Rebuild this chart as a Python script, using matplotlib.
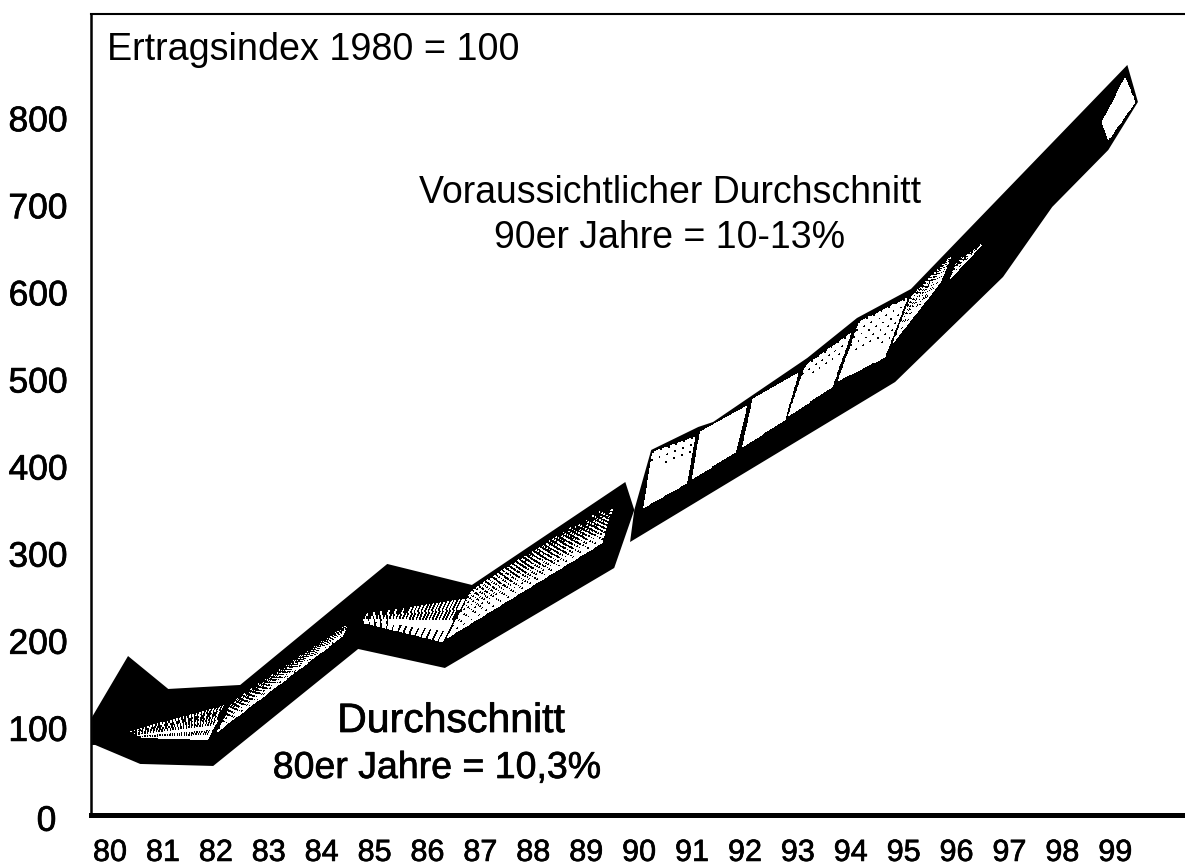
import matplotlib
matplotlib.use('Agg')
import matplotlib.pyplot as plt
import matplotlib.patheffects as pe
from matplotlib.transforms import ScaledTranslation
import numpy as np

plt.rcParams['font.family'] = ['Liberation Sans', 'DejaVu Sans']

year_ticks = list(range(80, 100))
index_ticks = [0, 100, 200, 300, 400, 500, 600, 700, 800]

# black ribbon outline of the 80s
ribbon80_x = [79.66, 80.34, 81.10, 82.46, 85.24, 86.84, 89.74, 89.91, 89.53, 86.33, 84.69, 81.95, 80.57, 79.72, 79.66]
ribbon80_y = [112.5, 182.5, 144.7, 149.3, 288.2, 264.1, 382.3, 350.2, 283.6, 168.8, 190.6, 56.3, 58.6, 80.4, 80.4]

# black ribbon outline of the 90s
ribbon90_x = [89.83, 89.91, 90.23, 91.12, 91.40, 92.15, 93.18, 94.12, 95.14, 99.23, 99.43, 98.87, 97.81, 96.88, 94.84]
ribbon90_y = [313.4, 350.2, 419.1, 445.5, 451.2, 482.2, 524.7, 570.6, 603.9, 861.1, 818.6, 763.5, 698.1, 617.7, 497.1]

# lighter panels on the ribbon: upper edge (x0, y0, x1, y1), lower edge, darkness at left and right end
panel_top = [
    (80.28, 99.9, 82.36, 143.5), (82.42, 141.2, 84.54, 223.9), (84.78, 233.1, 86.81, 260.6),
    (86.84, 258.3, 89.57, 365.1), (90.25, 416.8, 91.06, 434.0), (91.15, 439.7, 92.04, 469.6),
    (92.15, 477.6, 93.01, 507.5), (93.14, 515.5, 94.01, 553.4), (94.16, 566.0, 95.07, 593.6),
    (95.12, 593.6, 95.92, 642.9), (96.03, 639.5, 96.58, 660.2), (99.19, 846.2, 99.38, 818.6),
]
panel_bottom = [
    (80.62, 88.4, 81.83, 86.1), (82.02, 95.3, 84.40, 205.5), (84.78, 220.4, 86.28, 198.6),
    (86.37, 203.2, 89.30, 312.3), (90.08, 352.5, 90.91, 381.2), (91.00, 385.8, 91.83, 416.8),
    (91.95, 422.5, 92.76, 453.5), (92.82, 458.1, 93.65, 491.4), (93.76, 498.3, 94.65, 525.8),
    (94.80, 541.9, 95.69, 610.8), (95.88, 615.4, 96.48, 654.4), (98.75, 795.6, 98.87, 775.0),
]
panel_dark_left = [1.0, 1.0, 1.0, 0.25, 0.035, 0.0, 0.0, 0.035, 0.05, 0.3, 0.8, 0.0]
panel_dark_right = [0.9, 1.0, 0.85, 1.0, 0.045, 0.0, 0.0, 0.05, 0.09, 0.55, 1.0, 0.0]

# ordered dither gives the printed halftone look of the shading
BAYER = np.array([[0, 8, 2, 10], [12, 4, 14, 6], [3, 11, 1, 9], [15, 7, 13, 5]]) / 16 + 1 / 32


def shade_panel(ax, top, bottom, dark_left, dark_right, cell=2.0):
    """Fill a panel with a black and white dither, dark at its upper edge"""
    sx = 1094 / 20.68  # pixels per year
    sy = 801 / 919.6  # pixels per index point
    length = np.hypot((top[2] - top[0]) * sx, (top[3] - top[1]) * sy)
    depth = np.hypot((top[0] - bottom[0]) * sx, (top[1] - bottom[1]) * sy)
    nu = max(int(length / cell), 2)
    nv = max(int(depth / cell), 2)
    u, v = np.meshgrid(np.linspace(0, 1, nu + 1), np.linspace(0, 1, nv + 1))
    xt = top[0] + (top[2] - top[0]) * u
    yt = top[1] + (top[3] - top[1]) * u
    xb = bottom[0] + (bottom[2] - bottom[0]) * u
    yb = bottom[1] + (bottom[3] - bottom[1]) * u
    x = xt + (xb - xt) * v
    y = yt + (yb - yt) * v

    uc = (u[:-1, :-1] + u[1:, 1:]) / 2
    vc = (v[:-1, :-1] + v[1:, 1:]) / 2
    dark = (dark_left + (dark_right - dark_left) * uc) * (1 - vc) * 1.2
    rows, cols = np.indices(dark.shape)
    cells = (dark > BAYER[rows % 4, cols % 4]).astype(float)
    ax.pcolormesh(x, y, cells, cmap='gray_r', vmin=0, vmax=1, shading='flat',
                  antialiased=False, linewidth=0, zorder=3)


fig = plt.figure(figsize=(11.85, 8.66), dpi=100)
ax = fig.add_axes([91 / 1185, (866 - 815) / 866, (1185 - 91) / 1185, (815 - 14) / 866])
ax.set_xlim(79.64, 100.32)
ax.set_ylim(0, 919.6)

ax.fill(ribbon80_x, ribbon80_y, color='black', linewidth=0, zorder=2)
ax.fill(ribbon90_x, ribbon90_y, color='black', linewidth=0, zorder=2)
for i in range(len(panel_top)):
    shade_panel(ax, panel_top[i], panel_bottom[i], panel_dark_left[i], panel_dark_right[i])

ax.spines['right'].set_visible(False)
ax.spines['left'].set_linewidth(1.8)
ax.spines['top'].set_linewidth(1.5)
ax.spines['bottom'].set_linewidth(3.6)

ax.set_xticks(year_ticks)
ax.set_xticklabels(year_ticks)
ax.set_yticks(index_ticks)
ax.tick_params(axis='both', length=0)
ax.tick_params(axis='x', pad=16.5, labelsize=22)
ax.tick_params(axis='y', pad=17, labelsize=25.5)

heavy = [pe.withStroke(linewidth=0.5, foreground='black')]
for label in ax.get_xticklabels() + ax.get_yticklabels():
    label.set_path_effects(heavy)

# the zero is set further right than the other axis labels in the original
zero = ax.get_yticklabels()[0]
zero.set_transform(zero.get_transform() + ScaledTranslation(-8 / 72, -2 / 72, fig.dpi_scale_trans))

notes = [
    ('Ertragsindex 1980 = 100', 107, 60, 'left', 27.2),
    ('Voraussichtlicher Durchschnitt', 670, 203, 'center', 27),
    ('90er Jahre = 10-13%', 670, 248, 'center', 27),
    ('Durchschnitt', 451, 732, 'center', 29.5),
    ('80er Jahre = 10,3%', 437, 778, 'center', 27),
]
for text, px, py, align, size in notes:
    note = ax.text(px, 866 - py, text, fontsize=size, ha=align, va='baseline', transform=None)
    if text.endswith('10,3%') or text == 'Durchschnitt':
        note.set_path_effects(heavy)

fig.savefig('out.png', dpi=100, facecolor='white')
